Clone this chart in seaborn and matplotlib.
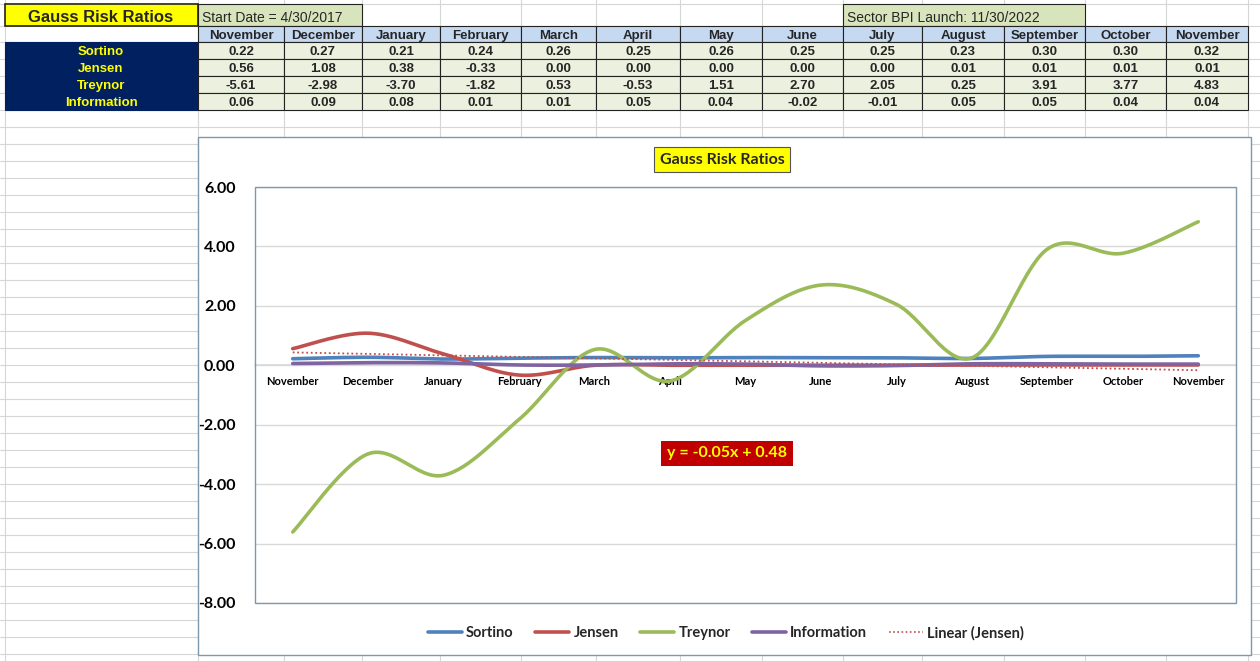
import numpy as np
import pandas as pd
import matplotlib
matplotlib.use("Agg")
import matplotlib.pyplot as plt
import seaborn as sns
from matplotlib.patches import Rectangle
from matplotlib.lines import Line2D

# ---------------- data ----------------
months = ["November", "December", "January", "February", "March", "April", "May",
          "June", "July", "August", "September", "October", "November"]
sortino = [0.22, 0.27, 0.21, 0.24, 0.26, 0.25, 0.26, 0.25, 0.25, 0.23, 0.30, 0.30, 0.32]
jensen = [0.56, 1.08, 0.38, -0.33, 0.00, 0.00, 0.00, 0.00, 0.00, 0.01, 0.01, 0.01, 0.01]
treynor = [-5.61, -2.98, -3.70, -1.82, 0.53, -0.53, 1.51, 2.70, 2.05, 0.25, 3.91, 3.77, 4.83]
information = [0.06, 0.09, 0.08, 0.01, 0.01, 0.05, 0.04, -0.02, -0.01, 0.05, 0.05, 0.04, 0.04]
series_names = ["Sortino", "Jensen", "Treynor", "Information"]
chart_title = "Gauss Risk Ratios"
start_label = "Start Date = 4/30/2017"
launch_label = "Sector BPI Launch: 11/30/2022"
y_ticks = [6, 4, 2, 0, -2, -4, -6, -8]

series = {"Sortino": sortino, "Jensen": jensen, "Treynor": treynor, "Information": information}
colors = {"Sortino": "#4F81BD", "Jensen": "#C0504D", "Treynor": "#9BBB59", "Information": "#8064A2"}

sns.set_theme(style="white")
plt.rcParams["font.family"] = ["Lato", "DejaVu Sans"]

W, H = 1260, 661
fig = plt.figure(figsize=(W / 100, H / 100), dpi=100)
fig.patch.set_facecolor("white")

# background "spreadsheet" axes in pixel coordinates
bg = fig.add_axes([0, 0, 1, 1])
bg.set_xlim(0, W)
bg.set_ylim(H, 0)
bg.axis("off")

cols = [198, 284, 362, 440, 521, 596, 680, 762, 843, 922, 1004, 1085, 1166, 1248]
grid_c = "#d6d6d6"
for x in [5] + cols:
    bg.plot([x, x], [0, H], color=grid_c, lw=0.8, zorder=0)
rows = [4, 26, 42, 59, 76, 93, 110] + list(range(127, H, 17))
for y in rows:
    bg.plot([0, W], [y, y], color=grid_c, lw=0.8, zorder=0)

NARROW = ["Liberation Sans Narrow", "Liberation Sans", "DejaVu Sans"]
ARIAL = ["Liberation Sans", "DejaVu Sans"]

def cell(x0, y0, x1, y1, fc, ec="#222222", lw=0.8, z=1):
    bg.add_patch(Rectangle((x0, y0), x1 - x0, y1 - y0, facecolor=fc, edgecolor=ec, lw=lw, zorder=z))

# title row boxes
cell(5, 4, 198, 26, "#FFFF00", lw=1.2)
bg.text(101, 15.5, chart_title, ha="center", va="center_baseline", fontsize=12, fontweight="bold",
        family=ARIAL, zorder=3)
cell(198, 4, 362, 26, "#D8E4BC")
bg.text(202, 16, start_label, ha="left", va="center_baseline", fontsize=10, family=NARROW, zorder=3)
cell(843, 4, 1085, 26, "#D8E4BC")
bg.text(847, 16, launch_label, ha="left", va="center_baseline", fontsize=10, family=NARROW, zorder=3)

# header row
for i, m in enumerate(months):
    cell(cols[i], 26, cols[i + 1], 42, "#C5D9F1")
    bg.text((cols[i] + cols[i + 1]) / 2, 34.5, m, ha="center", va="center_baseline", fontsize=9.5,
            fontweight="bold", family=NARROW, zorder=3)

# label column
cell(5, 42, 198, 110, "#002060", ec="#002060")
row_tops = [42, 59, 76, 93]
for r, name in enumerate(series_names):
    yc = row_tops[r] + 8.5
    bg.text(101, yc, name, ha="center", va="center_baseline", fontsize=9.5, fontweight="bold",
            color="#FFFF00", family=NARROW, zorder=3)
    vals = series[name]
    for i, v in enumerate(vals):
        cell(cols[i], row_tops[r], cols[i + 1], row_tops[r] + 17, "#EBF1DE")
        bg.text((cols[i] + cols[i + 1]) / 2, yc, f"{v:.2f}", ha="center", va="center_baseline",
                fontsize=9.5, fontweight="bold", family=NARROW, zorder=3)

# chart panel
border_c = "#7F97AB"
cell(198, 137, 1251, 655, "white", ec=border_c, lw=1.0, z=2)
bg.text(722, 158, chart_title, ha="center", va="center_baseline", fontsize=11.5, fontweight="bold", zorder=4,
        bbox=dict(boxstyle="square,pad=0.35", facecolor="#FFFF00", edgecolor="#555555", lw=0.8))

# ---------------- chart axes ----------------
ax = fig.add_axes([255 / W, 1 - 603 / H, 981 / W, 416 / H])
ax.set_facecolor("none")
ax.set_xlim(-0.5, 12.5)
ax.set_ylim(-8, 6)
for s in ["top", "right", "left"]:
    ax.spines[s].set_visible(False)
ax.spines["bottom"].set_position(("data", 0))
ax.spines["bottom"].set_color("#d9d9d9")

def smooth(y, n=30):
    y = np.asarray(y, float)
    x = np.arange(len(y), dtype=float)
    P = np.column_stack([x, y])
    out = []
    for i in range(len(P) - 1):
        p0 = P[i - 1] if i > 0 else P[i]
        p1, p2 = P[i], P[i + 1]
        p3 = P[i + 2] if i + 2 < len(P) else P[i + 1]
        c1 = p1 + (p2 - p0) / 6.0
        c2 = p2 - (p3 - p1) / 6.0
        t = np.linspace(0, 1, n, endpoint=(i == len(P) - 2))[:, None]
        seg = ((1 - t) ** 3) * p1 + 3 * ((1 - t) ** 2) * t * c1 + 3 * (1 - t) * t ** 2 * c2 + t ** 3 * p2
        out.append(seg)
    out = np.vstack(out)
    return out[:, 0], out[:, 1]

frames = []
for name in series_names:
    sx, sy = smooth(series[name])
    frames.append(pd.DataFrame({"x": sx, "y": sy, "series": name}))
df = pd.concat(frames, ignore_index=True)

for k, name in enumerate(series_names):
    sub = df[df["series"] == name]
    sns.lineplot(data=sub, x="x", y="y", sort=False, estimator=None, color=colors[name],
                 lw=2.6, ax=ax, legend=False, zorder=3 + k)

# linear trendline for Jensen (x = 1..13 like Excel)
xn = np.arange(1, len(jensen) + 1)
slope, intercept = np.polyfit(xn, jensen, 1)
ax.plot(np.arange(len(jensen)), slope * xn + intercept, color="#C0504D", lw=1.3,
        ls=(0, (1, 1.5)), zorder=8)
sign = "+" if intercept >= 0 else "-"
bg.text(727, 452, f"y = {slope:.2f}x {sign} {abs(intercept):.2f}", ha="center", va="center_baseline",
        fontsize=11.5, fontweight="bold", color="#FFFF00", zorder=10,
        bbox=dict(boxstyle="square,pad=0.35", facecolor="#C00000", edgecolor="none"))

ax.set_xlabel("")
ax.set_ylabel("")
ax.grid(axis="y", color="#d9d9d9", lw=1.0)
ax.grid(axis="x", visible=False)
ax.set_axisbelow(True)
ax.tick_params(axis="y", length=0, pad=14, colors="black")
ax.tick_params(axis="x", length=0, pad=8, colors="black")
ax.set_yticks(y_ticks)
ax.set_yticklabels([f"{t:.2f}" for t in y_ticks], fontsize=11.5, fontweight="bold")
ax.set_xticks(range(len(months)))
ax.set_xticklabels(months, fontsize=8, fontweight="bold")
ax.add_patch(Rectangle((0, 0), 1, 1, transform=ax.transAxes, fill=False, edgecolor=border_c,
                       lw=1.0, clip_on=False, zorder=20))

handles = [Line2D([], [], color=colors[n], lw=2.6) for n in series_names]
handles.append(Line2D([], [], color="#C0504D", lw=1.2, ls=(0, (1, 1.5))))
labels = series_names + ["Linear (Jensen)"]
fig.legend(handles, labels, loc="center", bbox_to_anchor=(726 / W, 1 - 633 / H), ncol=5,
           frameon=False, prop=dict(size=10.5, weight="bold"), handlelength=2.3,
           handletextpad=0.3, columnspacing=1.5)

fig.savefig("out.png", dpi=100, facecolor="white")
